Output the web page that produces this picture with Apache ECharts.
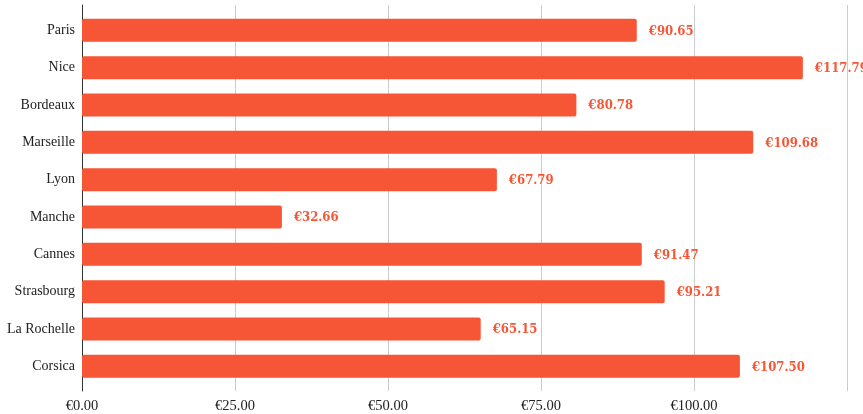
<!DOCTYPE html>
<html><head><meta charset="utf-8">
<script src="https://cdn.jsdelivr.net/npm/echarts@6/dist/echarts.min.js"></script>
<style>html,body{margin:0;padding:0;background:#fff}#c{width:863px;height:414px}</style>
</head><body><div id="c"></div>
<script>
const categories = ['Paris','Nice','Bordeaux','Marseille','Lyon','Manche','Cannes','Strasbourg','La Rochelle','Corsica'];
const values = [90.65,117.79,80.78,109.68,67.79,32.66,91.47,95.21,65.15,107.50];
const tickValues = [0,25,50,75,100,125];
const FONT = '"Liberation Serif", "DejaVu Serif", Georgia, serif';
const LFONT = '"DejaVu Serif Condensed", "DejaVu Serif", Georgia, serif';
const COLOR = '#F65636';
const chart = echarts.init(document.getElementById('c'));
chart.setOption({
  animation:false,
  grid:[
    {left:82,right:16,top:5,height:387},
    {left:82,right:16,top:11.67,height:373.33}
  ],
  xAxis:[
    {gridIndex:0,type:'value',min:tickValues[0],max:tickValues[tickValues.length-1],interval:25,
     axisLine:{show:false},axisTick:{show:false},
     splitLine:{show:true,lineStyle:{color:'#cccccc',width:1}},
     axisLabel:{color:'#222',fontFamily:FONT,fontSize:14.5,margin:8,showMaxLabel:false,
       formatter:v=>v===125?'':'€'+v.toFixed(2)}},
    {gridIndex:1,type:'value',min:0,max:125,show:false}
  ],
  yAxis:[
    {gridIndex:0,type:'value',min:0,max:1,axisLine:{show:true,lineStyle:{color:'#333',width:1}},
     axisTick:{show:false},axisLabel:{show:false},splitLine:{show:false}},
    {gridIndex:1,type:'category',data:categories,inverse:true,
     axisLine:{show:false},axisTick:{show:false},
     axisLabel:{color:'#222',fontFamily:FONT,fontSize:14,margin:7}}
  ],
  series:[{
    type:'bar',xAxisIndex:1,yAxisIndex:1,data:values,barWidth:23,
    itemStyle:{color:COLOR,borderRadius:2},
    label:{show:true,position:'right',distance:12,color:COLOR,fontFamily:LFONT,fontWeight:'bold',fontSize:13,
      offset:[0,1],formatter:p=>'€'+p.value.toFixed(2)}
  }]
});
</script></body></html>
